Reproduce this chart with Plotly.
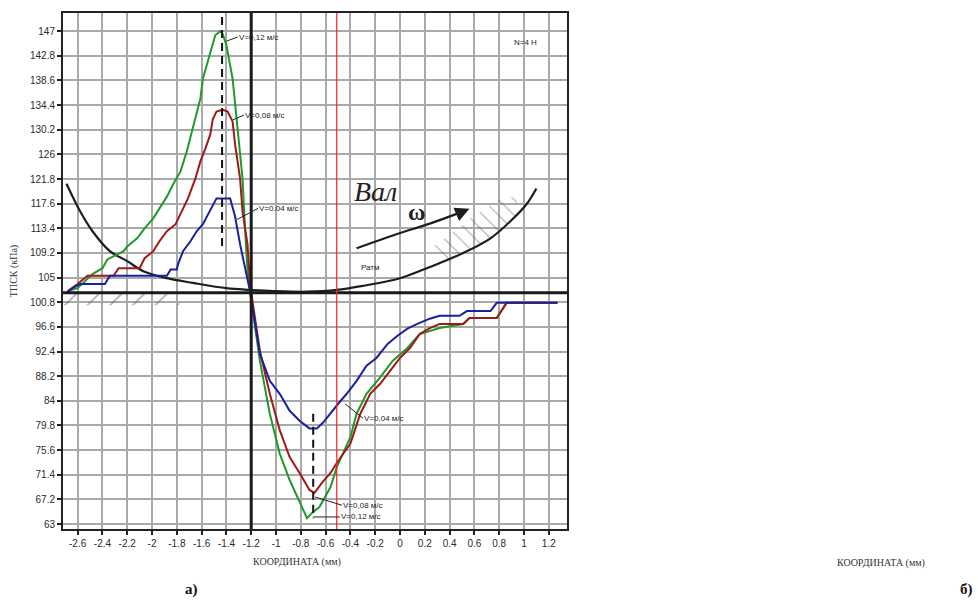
import plotly.graph_objects as go

# ---------------- data ----------------
x_ticks = [-2.6, -2.4, -2.2, -2.0, -1.8, -1.6, -1.4, -1.2, -1.0, -0.8, -0.6, -0.4,
           -0.2, 0.0, 0.2, 0.4, 0.6, 0.8, 1.0, 1.2]
x_tick_labels = ["-2.6", "-2.4", "-2.2", "-2", "-1.8", "-1.6", "-1.4", "-1.2", "-1", "-0.8",
                 "-0.6", "-0.4", "-0.2", "0", "0.2", "0.4", "0.6", "0.8", "1", "1.2"]
y_ticks = [63, 67.2, 71.4, 75.6, 79.8, 84, 88.2, 92.4, 96.6, 100.8, 105, 109.2, 113.4,
           117.6, 121.8, 126, 130.2, 134.4, 138.6, 142.8, 147]
y_tick_labels = ["63", "67.2", "71.4", "75.6", "79.8", "84", "88.2", "92.4", "96.6", "100.8",
                 "105", "109.2", "113.4", "117.6", "121.8", "126", "130.2", "134.4", "138.6",
                 "142.8", "147"]

# V = 0.04 m/s (blue)
v004_x = [-2.69, -2.64, -2.58, -2.38, -2.34, -1.88, -1.85, -1.80, -1.79, -1.75, -1.69, -1.64,
          -1.59, -1.55, -1.51, -1.48, -1.37, -1.33, -1.29, -1.23, -1.21, -1.13, -1.05, -0.97,
          -0.89, -0.81, -0.73, -0.67, -0.62, -0.51, -0.43, -0.35, -0.27, -0.19, -0.10, -0.02,
          0.06, 0.14, 0.24, 0.32, 0.48, 0.54, 0.73, 0.78, 1.27]
v004_y = [102.4, 103.2, 103.9, 103.9, 105.3, 105.3, 106.4, 106.4, 107.3, 109.5, 111.2, 112.9,
          114.1, 115.8, 117.5, 118.5, 118.5, 115.4, 110.7, 104.9, 102.7, 92.0, 87.4, 85.2,
          82.3, 80.6, 79.3, 79.3, 80.3, 83.2, 85.2, 87.4, 90.0, 91.3, 93.7, 95.1,
          96.3, 97.1, 98.0, 98.5, 98.5, 99.3, 99.3, 100.7, 100.7]

# V = 0.08 m/s (red)
v008_x = [-2.68, -2.60, -2.52, -2.31, -2.27, -2.10, -2.06, -1.99, -1.94, -1.88, -1.81, -1.76,
          -1.71, -1.65, -1.61, -1.57, -1.53, -1.51, -1.48, -1.43, -1.39, -1.35, -1.33, -1.29,
          -1.27, -1.23, -1.21, -1.13, -1.05, -0.97, -0.89, -0.81, -0.73, -0.69, -0.63, -0.56,
          -0.51, -0.40, -0.32, -0.24, -0.16, -0.08, 0.00, 0.08, 0.16, 0.24, 0.32, 0.51, 0.56,
          0.78, 0.86, 1.27]
v008_y = [102.7, 103.9, 105.3, 105.3, 106.6, 106.6, 108.3, 109.5, 111.2, 112.9, 114.1, 116.3,
          118.5, 121.9, 124.8, 127.0, 129.4, 132.0, 133.3, 133.6, 133.3, 131.6, 127.7, 121.9,
          116.3, 110.7, 103.9, 92.5, 85.2, 79.0, 74.4, 71.7, 68.8, 68.3, 70.0, 71.7,
          73.4, 76.7, 81.8, 85.2, 86.9, 89.1, 91.3, 93.0, 95.4, 96.4, 97.1, 97.1, 98.1,
          98.1, 100.7, 100.7]

# V = 0.12 m/s (green)
v012_x = [-2.68, -2.60, -2.48, -2.40, -2.36, -2.31, -2.23, -2.20, -2.12, -2.06, -1.99, -1.94,
          -1.88, -1.83, -1.77, -1.72, -1.67, -1.61, -1.59, -1.56, -1.52, -1.49, -1.45, -1.43,
          -1.40, -1.35, -1.31, -1.27, -1.25, -1.23, -1.21, -1.13, -1.05, -0.97, -0.89, -0.82,
          -0.75, -0.71, -0.65, -0.56, -0.51, -0.40, -0.35, -0.27, -0.16, -0.06, 0.06, 0.16,
          0.32, 0.51, 0.56, 0.78, 0.86, 1.27]
v012_y = [102.7, 103.2, 105.6, 106.6, 108.1, 108.6, 109.5, 110.3, 111.7, 113.4, 115.1, 116.8,
          118.8, 120.9, 123.1, 126.5, 130.4, 135.5, 138.9, 141.2, 144.0, 146.3, 147.0, 146.5,
          144.6, 138.9, 130.4, 121.9, 113.4, 106.1, 102.7, 90.8, 81.8, 75.0, 70.5, 67.1,
          64.0, 64.9, 65.9, 69.3, 72.7, 77.8, 81.8, 85.2, 88.0, 90.8, 93.0, 95.4,
          96.4, 97.1, 98.1, 98.1, 100.7, 100.7]

# shaft profile (Ратм)
shaft_x = [-2.69, -2.58, -2.48, -2.34, -2.20, -2.07, -1.88, -1.67, -1.40, -1.21, -1.02, -0.75,
           -0.51, -0.30, 0.00, 0.24, 0.51, 0.73, 0.89, 1.02, 1.10]
shaft_y = [121.0, 116.3, 112.9, 109.5, 107.8, 106.1, 104.9, 104.1, 103.2, 102.9, 102.7, 102.6,
           102.9, 103.6, 104.9, 106.8, 109.2, 111.7, 114.6, 117.5, 120.2]

# rotation arrow (ω)
omega_x = [-0.35, -0.03, 0.24, 0.50]
omega_y = [110.0, 112.4, 114.2, 116.2]

# peak / trough dashed markers
peak_x = [-1.435, -1.435]
peak_y = [149.4, 110.3]
trough_x = [-0.70, -0.70]
trough_y = [81.8, 64.0]

# hatched regions
hatch_left_x = [-2.72, -1.78, -1.78, -2.72]
hatch_left_y = [102.4, 102.4, 100.3, 100.3]
hatch_right_x = [0.32, 0.51, 0.73, 0.89, 0.97, 0.93, 0.80, 0.58, 0.38, 0.27]
hatch_right_y = [107.4, 109.2, 111.7, 114.6, 116.1, 118.8, 118.3, 115.3, 112.0, 110.3]

baseline_y = 102.4
center_x = -1.2
red_x = -0.51

# ---------------- figure ----------------
fig = go.Figure()

fig.add_trace(go.Scatter(x=hatch_left_x, y=hatch_left_y, fill="toself", mode="none",
                         fillcolor="rgba(0,0,0,0)",
                         fillpattern=dict(shape="/", size=16, solidity=0.1,
                                          fgcolor="#5a5a5a", bgcolor="rgba(0,0,0,0)"),
                         hoverinfo="skip", showlegend=False))
fig.add_trace(go.Scatter(x=hatch_right_x, y=hatch_right_y, fill="toself", mode="none",
                         fillcolor="rgba(0,0,0,0)",
                         fillpattern=dict(shape="\\", size=11, solidity=0.1,
                                          fgcolor="#555555", bgcolor="rgba(0,0,0,0)"),
                         hoverinfo="skip", showlegend=False))

fig.add_trace(go.Scatter(x=shaft_x, y=shaft_y, mode="lines", line=dict(color="#1e1e1e", width=2.2, shape="spline"),
                         showlegend=False))
fig.add_trace(go.Scatter(x=v012_x, y=v012_y, mode="lines", line=dict(color="#1f9a2a", width=2),
                         showlegend=False))
fig.add_trace(go.Scatter(x=v008_x, y=v008_y, mode="lines", line=dict(color="#a01818", width=2),
                         showlegend=False))
fig.add_trace(go.Scatter(x=v004_x, y=v004_y, mode="lines", line=dict(color="#1a1f9e", width=2),
                         showlegend=False))
fig.add_trace(go.Scatter(x=peak_x, y=peak_y, mode="lines",
                         line=dict(color="#111111", width=2, dash="8px,5px"), showlegend=False))
fig.add_trace(go.Scatter(x=trough_x, y=trough_y, mode="lines",
                         line=dict(color="#111111", width=2, dash="8px,5px"), showlegend=False))
fig.add_trace(go.Scatter(x=omega_x, y=omega_y, mode="lines",
                         line=dict(color="#1e1e1e", width=2.2, shape="spline"), showlegend=False))

fig.add_hline(y=baseline_y, line=dict(color="#1a1a1a", width=3))
fig.add_vline(x=center_x, line=dict(color="#1a1a1a", width=3))
fig.add_vline(x=red_x, line=dict(color="#ff2020", width=1.2))

lab_font = dict(family="Liberation Sans", size=8, color="#222222")
leaders = [
    (-1.40, 145.3, -1.31, 146.0, "V=0,12 м/с"),
    (-1.347, 131.9, -1.258, 132.7, "V=0,08 м/с"),
    (-1.315, 114.9, -1.145, 116.8, "V=0.04 м/с"),
    (-0.444, 83.5, -0.298, 81.0, "V=0,04 м/с"),
    (-0.685, 67.6, -0.468, 66.2, "V=0,08 м/с"),
    (-0.70, 64.2, -0.484, 64.2, "V=0,12 м/с"),
]
for hx, hy, tx, ty, txt in leaders:
    fig.add_annotation(x=hx, y=hy, ax=tx, ay=ty, axref="x", ayref="y", text=txt,
                       showarrow=True, arrowhead=0, arrowwidth=1, arrowcolor="#222222",
                       xanchor="left", yanchor="middle", font=lab_font, borderpad=0)

# arrow head for ω
fig.add_annotation(x=omega_x[-1] + 0.06, y=omega_y[-1] + 0.55, ax=omega_x[-1] - 0.05, ay=omega_y[-1] - 0.45,
                   axref="x", ayref="y", text="", showarrow=True, arrowhead=2, arrowsize=1.3,
                   arrowwidth=2.2, arrowcolor="#1e1e1e")

center = dict(xanchor="center", yanchor="middle", showarrow=False)
fig.add_annotation(x=-0.20, y=119.6, text="Вал", **center,
                   font=dict(family="Liberation Serif", size=28, color="#222222", style="italic"))
fig.add_annotation(x=0.14, y=116.1, text="<b>ω</b>", **center,
                   font=dict(family="Liberation Serif", size=24, color="#222222"))
fig.add_annotation(x=-0.24, y=106.8, text="Ратм", **center,
                   font=dict(family="Liberation Sans", size=8, color="#222222"))
fig.add_annotation(x=1.01, y=145.1, text="N=4 H", **center,
                   font=dict(family="Liberation Sans", size=8, color="#222222"))

# captions outside the plot
fig.add_annotation(xref="paper", yref="paper", x=0.465, y=-0.0635, text="КООРДИНАТА (мм)", **center,
                   font=dict(family="Liberation Serif", size=10, color="#333333"))
fig.add_annotation(xref="paper", yref="paper", x=1.624, y=-0.065, text="КООРДИНАТА (мм)", **center,
                   font=dict(family="Liberation Serif", size=10, color="#333333"))
fig.add_annotation(xref="paper", yref="paper", x=0.2545, y=-0.118, text="<b>а)</b>", **center,
                   font=dict(family="Liberation Serif", size=15, color="#111111"))
fig.add_annotation(xref="paper", yref="paper", x=1.793, y=-0.118, text="<b>б)</b>", **center,
                   font=dict(family="Liberation Serif", size=15, color="#111111"))

axis_common = dict(showgrid=True, gridcolor="#a9a9a9", gridwidth=1.5, zeroline=False,
                   showline=True, linecolor="#222222", linewidth=2, mirror=True,
                   ticks="outside", ticklen=4, tickwidth=1.5, tickcolor="#222222",
                   tickfont=dict(family="Liberation Sans", size=10, color="#2a2a2a"))

fig.update_xaxes(range=[-2.718, 1.347], tickvals=x_ticks, ticktext=x_tick_labels, **axis_common)
fig.update_yaxes(range=[62.15, 150.1], tickvals=y_ticks, ticktext=y_tick_labels,
                 title=dict(text="ТПСК (кПа)", standoff=10,
                            font=dict(family="Liberation Serif", size=10, color="#333333")),
                 **axis_common)

fig.update_layout(width=978, height=602, margin=dict(l=63, r=411, t=11, b=73),
                  plot_bgcolor="white", paper_bgcolor="white", showlegend=False)

fig.write_html("out.html", config={"displayModeBar": False},
               post_script="document.body.style.margin='0';")
